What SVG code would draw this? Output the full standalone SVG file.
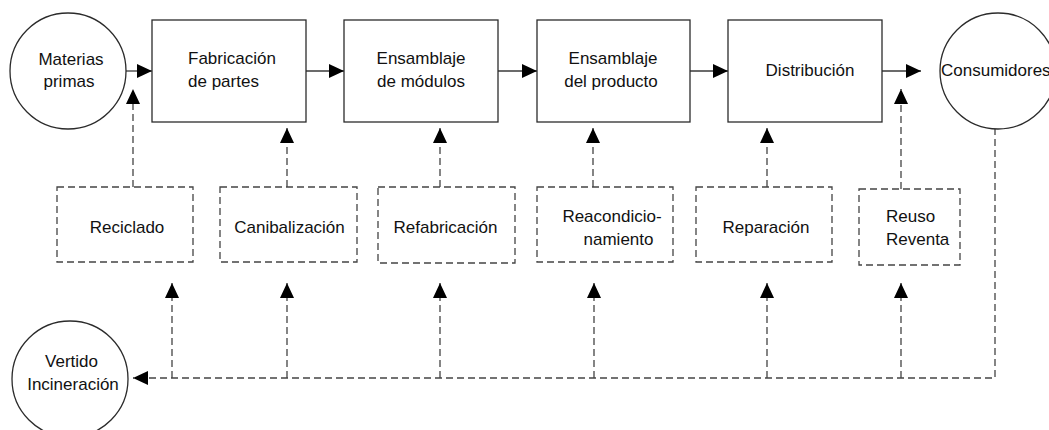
<svg xmlns="http://www.w3.org/2000/svg" width="1049" height="430" viewBox="0 0 1049 430">
  <style>
    .node { fill: #ffffff; stroke: #2b2b2b; stroke-width: 1.3; }
    .dnode { fill: #ffffff; stroke: #444444; stroke-width: 1.3; stroke-dasharray: 7 4; }
    .label { font-family: "Liberation Sans", Arial, sans-serif; font-size: 17px; fill: #111111; }
    .flow { fill: none; stroke: #3a3a3a; stroke-width: 1.3; marker-end: url(#head); }
    .back { fill: none; stroke: #444444; stroke-width: 1.3; stroke-dasharray: 7 4; marker-end: url(#head); }
  </style>
  <defs>
    <marker id="head" markerUnits="userSpaceOnUse" markerWidth="16" markerHeight="16" refX="15" refY="8" orient="auto">
      <path d="M0,1 L15,8 L0,15 z" fill="#000000"/>
    </marker>
  </defs>
  <rect width="1049" height="430" fill="#ffffff"/>

  <!-- connectors -->
  <g id="connectors">
    <!-- forward chain -->
    <path class="flow" d="M126,71 H152"/>
    <path class="flow" d="M306,71 H344"/>
    <path class="flow" d="M498,71 H537"/>
    <path class="flow" d="M690,71 H728"/>
    <path class="flow" d="M882,71 H921"/>
    <!-- recovery options feeding back into the chain -->
    <path class="back" d="M133,187 V89"/>
    <path class="back" d="M287,187 V128"/>
    <path class="back" d="M440,187 V128"/>
    <path class="back" d="M593,187 V128"/>
    <path class="back" d="M767,187 V128"/>
    <path class="back" d="M901,189 V89"/>
    <!-- return line from consumers -->
    <path class="back" d="M995,128 V378 H133"/>
    <path class="back" d="M172,378 V283"/>
    <path class="back" d="M287,378 V283"/>
    <path class="back" d="M440,378 V283"/>
    <path class="back" d="M594,378 V283"/>
    <path class="back" d="M767,378 V283"/>
    <path class="back" d="M901,378 V283"/>
  </g>

  <!-- main chain -->
  <g id="materias-primas">
    <circle class="node" cx="68" cy="71" r="58"/>
    <text class="label" x="71" y="65" text-anchor="middle">Materias</text>
    <text class="label" x="69" y="87" text-anchor="middle">primas</text>
  </g>
  <g id="fabricacion">
    <rect class="node" x="152" y="20" width="154" height="102"/>
    <text class="label" x="188" y="64">Fabricación</text>
    <text class="label" x="188" y="87">de partes</text>
  </g>
  <g id="ensamblaje-modulos">
    <rect class="node" x="344" y="20" width="154" height="102"/>
    <text class="label" x="421" y="64" text-anchor="middle">Ensamblaje</text>
    <text class="label" x="421" y="87" text-anchor="middle">de módulos</text>
  </g>
  <g id="ensamblaje-producto">
    <rect class="node" x="537" y="20" width="153" height="102"/>
    <text class="label" x="613" y="64" text-anchor="middle">Ensamblaje</text>
    <text class="label" x="611" y="87" text-anchor="middle">del producto</text>
  </g>
  <g id="distribucion">
    <rect class="node" x="728" y="20" width="154" height="102"/>
    <text class="label" x="810" y="76" text-anchor="middle">Distribución</text>
  </g>
  <g id="consumidores">
    <circle class="node" cx="998" cy="71" r="58"/>
    <text class="label" x="941" y="76">Consumidores</text>
  </g>

  <!-- recovery options -->
  <g id="reciclado">
    <rect class="dnode" x="57" y="187" width="136" height="75"/>
    <text class="label" x="127" y="233" text-anchor="middle">Reciclado</text>
  </g>
  <g id="canibalizacion">
    <rect class="dnode" x="220" y="187" width="137" height="75"/>
    <text class="label" x="289.5" y="233" text-anchor="middle">Canibalización</text>
  </g>
  <g id="refabricacion">
    <rect class="dnode" x="378" y="187" width="137" height="76"/>
    <text class="label" x="445.5" y="233" text-anchor="middle">Refabricación</text>
  </g>
  <g id="reacondicionamiento">
    <rect class="dnode" x="537" y="187" width="136" height="75"/>
    <text class="label" x="612" y="222" text-anchor="middle">Reacondicio-</text>
    <text class="label" x="618.5" y="245" text-anchor="middle">namiento</text>
  </g>
  <g id="reparacion">
    <rect class="dnode" x="696" y="187" width="136" height="75"/>
    <text class="label" x="766" y="233" text-anchor="middle">Reparación</text>
  </g>
  <g id="reuso">
    <rect class="dnode" x="859" y="189" width="101" height="76"/>
    <text class="label" x="886" y="222">Reuso</text>
    <text class="label" x="886" y="245">Reventa</text>
  </g>

  <!-- disposal -->
  <g id="vertido">
    <circle class="node" cx="70" cy="379" r="58"/>
    <text class="label" x="71.5" y="367" text-anchor="middle">Vertido</text>
    <text class="label" x="73" y="390" text-anchor="middle">Incineración</text>
  </g>
</svg>
